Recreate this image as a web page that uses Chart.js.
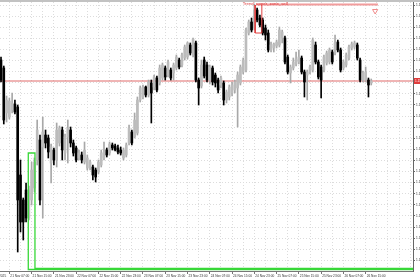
<!DOCTYPE html>
<html>
<head>
<meta charset="utf-8">
<script src="https://cdn.jsdelivr.net/npm/chart.js@4.4.1/dist/chart.umd.min.js"></script>
<style>
    html, body { margin: 0; padding: 0; background: #fff; }
    #wrap { width: 420px; height: 280px; border-top: 2px solid #c2c2c2; box-sizing: border-box; }
    canvas { display: block; }
</style>
</head>
<body>
<div id="wrap"><canvas id="chart" width="420" height="278"></canvas></div>
<script>
// H1 candles, values in points
const opens = [940,932,887,883,890,896,893,825,800,810,782,800,812,840,860,853,865,862,837,850,
    840,857,870,847,863,870,857,852,842,845,838,832,832,833,830,828,835,842,850,847,
    855,854,852,850,842,845,857,868,863,867,900,903,913,905,917,913,922,917,922,932,
    925,930,927,932,940,935,942,943,955,945,957,920,914,940,935,920,932,925,920,915,
    917,900,903,907,910,912,917,928,930,967,978,972,990,982,980,972,967,950,952,954,
    955,962,962,943,927,932,936,938,942,928,925,928,930,955,938,933,930,937,938,948,
    947,958,950,932,935,942,952,953,955,940,920,920,920,917];
const highs = [943,934,904,902,907,900,895,840,802,817,814,838,842,880,865,883,870,865,856,852,
    877,874,873,866,880,873,860,854,850,848,858,845,840,835,832,840,850,858,852,858,
    857,856,855,853,852,857,875,870,887,903,914,915,914,920,920,925,924,935,937,934,
    940,932,937,945,942,947,955,958,957,962,959,922,940,943,938,935,934,927,922,924,
    919,910,915,918,920,928,935,942,972,980,982,996,992,985,982,975,970,958,957,960,
    973,970,964,945,935,942,948,950,944,930,930,935,962,958,940,935,945,949,952,950,
    965,960,952,940,947,955,958,959,957,942,929,933,922,921];
const lows = [918,876,878,881,887,886,748,768,760,778,780,795,808,835,795,782,852,842,817,835,
    833,854,840,840,837,853,844,838,840,837,836,830,830,820,818,826,833,840,843,845,
    850,849,846,845,840,843,855,855,862,865,898,901,903,903,877,910,908,915,920,920,
    923,920,920,930,931,933,940,941,945,943,918,895,912,922,918,916,915,913,907,912,
    895,897,900,904,907,873,915,926,928,965,968,970,978,973,965,960,948,948,948,952,
    953,957,936,926,917,930,934,936,926,903,900,926,928,936,921,902,928,935,936,936,
    945,948,928,930,933,940,950,951,940,918,918,918,903,915];
const closes = [920,880,900,899,897,888,800,778,778,782,810,830,838,870,800,868,857,848,853,840,
    870,872,850,863,872,857,847,840,847,840,850,842,838,825,823,838,847,848,845,856,
    852,850,848,847,850,855,872,857,880,900,912,913,905,918,907,923,910,932,935,923,
    938,922,935,943,933,945,953,957,947,961,920,912,935,924,920,933,918,917,910,922,
    900,908,913,915,918,925,933,940,970,978,970,990,980,975,967,965,950,955,956,958,
    970,968,938,928,933,938,941,943,928,918,928,933,960,938,923,920,943,947,950,938,
    957,950,930,938,945,953,956,957,942,920,927,928,915,919];

const xLabels = ['21 Nov 2025', '21 Nov 07:00', '21 Nov 15:00', '21 Nov 23:00', '22 Nov 07:00', '22 Nov 15:00',
    '22 Nov 23:00', '23 Nov 07:00', '23 Nov 15:00', '23 Nov 23:00', '24 Nov 07:00', '24 Nov 15:00',
    '24 Nov 23:00', '25 Nov 07:00', '25 Nov 15:00', '25 Nov 23:00', '26 Nov 07:00', '26 Nov 15:00'];
const xLabelBars = [-5, 3, 11, 19, 27, 35, 43, 51, 59, 67, 75, 83, 91, 99, 107, 115, 123, 131];

const yTicks = [995, 983.9, 972.8, 961.7, 950.6, 939.5, 928.4, 917.3, 906.2, 895.1, 884, 872.9,
    861.8, 850.7, 839.6, 828.5, 817.4, 806.3, 795.2, 784.1, 773, 761.9, 750.8, 739.7];
const yTickLabels = ['1.1600', '1.1595', '1.1590', '1.1585', '1.1580', '1.1575', '1.1570', '1.1565',
    '1.1560', '1.1555', '1.1550', '1.1545', '1.1540', '1.1535', '1.1530', '1.1525', '1.1520', '1.1515',
    '1.1510', '1.1505', '1.1500', '1.1495', '1.1490', '1.1485'];

// objects drawn on the chart (bar index / points)
const bidLine = 919;
const bidLabel = '1.1566';
const greenZone = [9.8, 12.2, 847, 730.5];   // from, to, top, bottom
const redZone = [91.3, 93.7, 995, 967];
const redLine = [91.6, 135.4, 995.5];
const arrowMark = [134.4, 989];
const objectName = 'Trend_upper_zone_sell';

const X_MIN = -0.36, X_MAX = 148;

const idx = opens.map((_, i) => i);
const up = idx.map(i => closes[i] >= opens[i]);
const bodyColor = up.map(u => u ? '#bcbcbc' : '#000');
const wickColor = up.map(u => u ? '#a8a8a8' : '#000');

const gridBars = [];
for (let b = 3; b <= X_MAX; b += 4) gridBars.push(b);
const xTickVals = [-5].concat(gridBars);

const lineSet = (data, color, width, order) => ({
    type: 'line', data: data, borderColor: color, borderWidth: width,
    pointRadius: 0, fill: false, tension: 0, order: order
});

const overlay = {
    id: 'overlay',
    afterDraw(chart) {
        const ctx = chart.ctx;
        const xs = chart.scales.x, ys = chart.scales.y;
        ctx.save();
        ctx.fillStyle = '#e03c3c';
        ctx.font = '4.3px "Liberation Sans", Arial, sans-serif';
        ctx.textBaseline = 'alphabetic';
        ctx.fillText(objectName, xs.getPixelForValue(86.8), 3);
        // bid price tag on the price axis
        const py = ys.getPixelForValue(bidLine);
        ctx.fillStyle = '#e03c3c';
        ctx.fillRect(chart.chartArea.right + 1, py - 3, 8, 6);
        ctx.fillStyle = '#fff';
        ctx.font = '3.2px "Liberation Sans", Arial, sans-serif';
        ctx.textBaseline = 'middle';
        ctx.fillText(bidLabel, chart.chartArea.right + 2, py);
        ctx.restore();
    }
};

new Chart(document.getElementById('chart'), {
    type: 'bar',
    data: {
        datasets: [
            lineSet([{ x: X_MIN, y: bidLine }, { x: X_MAX, y: bidLine }], '#e06a6a', 1, 10),
            {
                type: 'bar',
                data: idx.map(i => ({ x: i, y: [lows[i], highs[i]] })),
                backgroundColor: wickColor,
                barThickness: 1,
                grouped: false,
                order: 4
            },
            {
                type: 'bar',
                data: idx.map(i => ({ x: i, y: [opens[i], closes[i]] })),
                backgroundColor: bodyColor,
                barThickness: 2,
                grouped: false,
                order: 3
            },
            lineSet([{ x: X_MAX, y: greenZone[3] }, { x: greenZone[0], y: greenZone[3] },
                { x: greenZone[0], y: greenZone[2] }, { x: greenZone[1], y: greenZone[2] },
                { x: greenZone[1], y: greenZone[3] + 1 }, { x: X_MAX, y: greenZone[3] + 1 }], '#38d838', 1.3, 1),
            lineSet([{ x: redZone[0], y: redZone[2] }, { x: redZone[0], y: redZone[3] },
                { x: redZone[1], y: redZone[3] }, { x: redZone[1], y: redZone[2] }], '#e04040', 1, 1),
            lineSet([{ x: redLine[0], y: redLine[2] }, { x: redLine[1], y: redLine[2] }], '#f29c9c', 2, 1),
            {
                type: 'line',
                data: [{ x: arrowMark[0], y: arrowMark[1] }],
                showLine: false,
                pointStyle: 'triangle',
                rotation: 180,
                pointRadius: 3,
                borderColor: '#f08a8a',
                backgroundColor: '#fff',
                borderWidth: 1,
                order: 1
            }
        ]
    },
    options: {
        responsive: false,
        animation: false,
        devicePixelRatio: 1,
        layout: { padding: 0, autoPadding: false },
        plugins: { legend: { display: false }, tooltip: { enabled: false } },
        scales: {
            x: {
                type: 'linear',
                min: X_MIN,
                max: X_MAX,
                offset: false,
                afterBuildTicks: s => { s.ticks = xTickVals.map(v => ({ value: v })); },
                afterFit: s => { s.height = 9; s.paddingLeft = 0; s.paddingRight = 0; },
                ticks: {
                    autoSkip: false,
                    maxRotation: 0,
                    align: 'start',
                    padding: 0,
                    labelOffset: 1,
                    color: '#333',
                    font: { size: 3.2, family: '"Liberation Sans", Arial, sans-serif' },
                    callback: v => {
                        const k = xLabelBars.indexOf(v);
                        return k >= 0 ? xLabels[k] : '';
                    }
                },
                grid: {
                    offset: false,
                    color: '#dcdcdc',
                    tickLength: 3,
                    tickColor: c => xLabelBars.includes(c.tick && c.tick.value) ? '#777' : 'rgba(0,0,0,0)'
                },
                border: { color: '#777', dash: [1, 2] }
            },
            y: {
                type: 'linear',
                position: 'right',
                min: 729,
                max: 998,
                beginAtZero: false,
                afterBuildTicks: s => { s.ticks = yTicks.map(v => ({ value: v })); },
                afterFit: s => { s.width = 7; s.paddingTop = 0; s.paddingBottom = 0; },
                ticks: {
                    padding: 1,
                    color: '#333',
                    font: { size: 3.2, family: '"Liberation Sans", Arial, sans-serif' },
                    callback: (v, i) => yTickLabels[i]
                },
                grid: { color: '#dcdcdc', tickLength: 2, tickColor: '#666' },
                border: { color: '#666', dash: [1, 2] }
            }
        }
    },
    plugins: [overlay]
});
</script>
</body>
</html>
